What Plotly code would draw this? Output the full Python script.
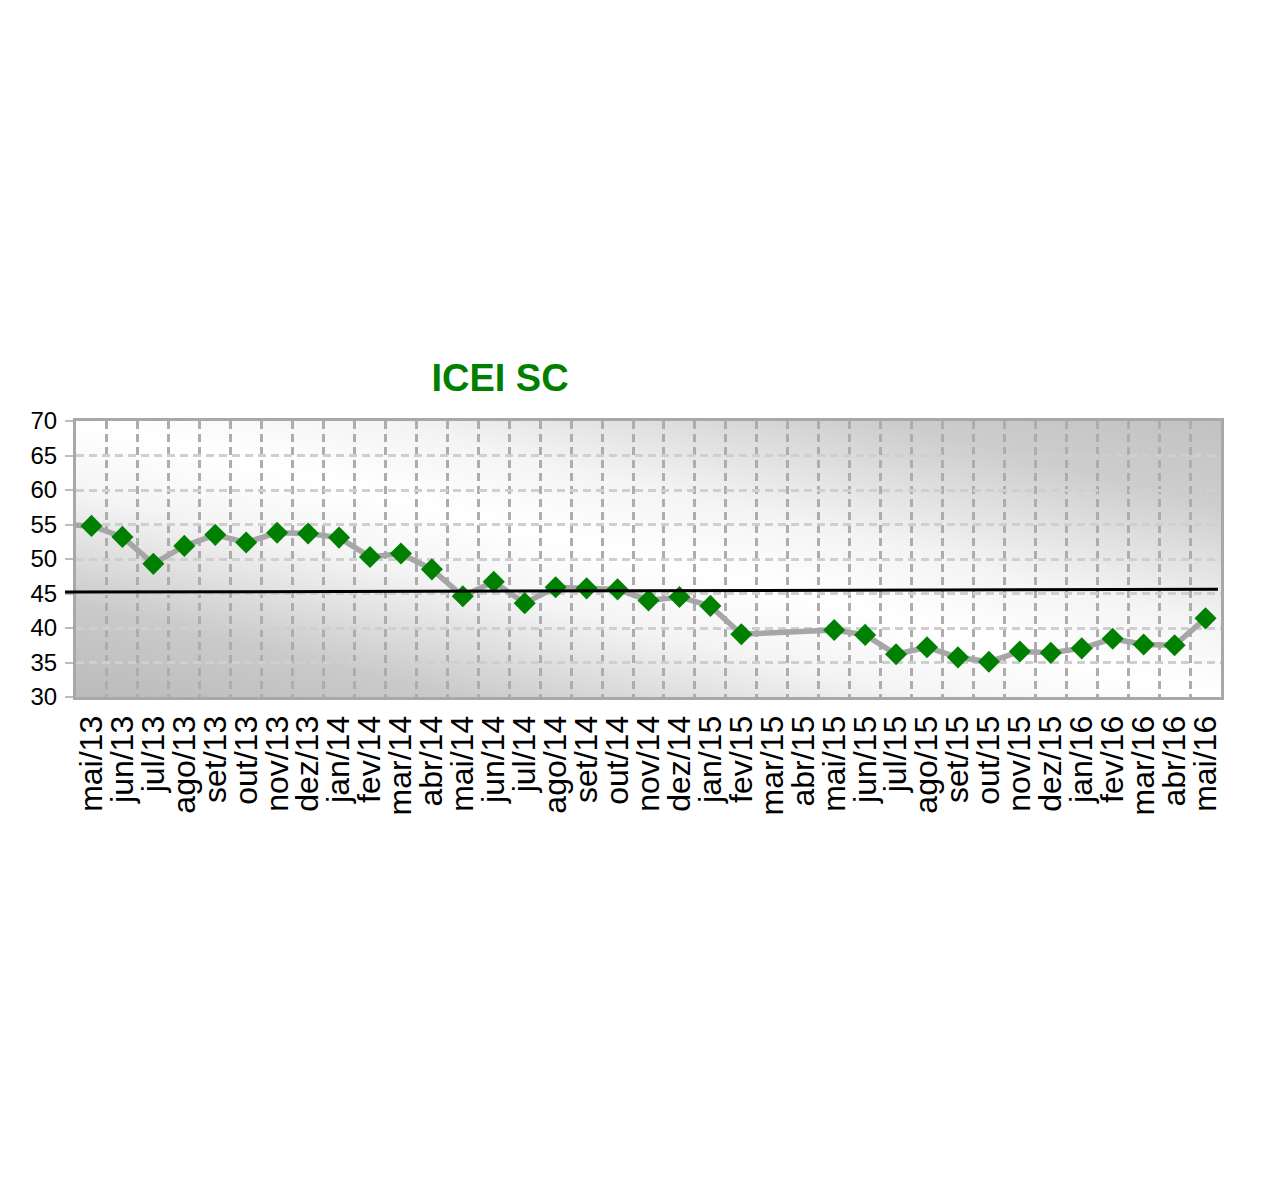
import base64
import plotly.graph_objects as go

# Data
months = ["abr/13",
          "mai/13", "jun/13", "jul/13", "ago/13", "set/13", "out/13", "nov/13", "dez/13",
          "jan/14", "fev/14", "mar/14", "abr/14", "mai/14", "jun/14", "jul/14", "ago/14",
          "set/14", "out/14", "nov/14", "dez/14", "jan/15", "fev/15", "mar/15", "abr/15",
          "mai/15", "jun/15", "jul/15", "ago/15", "set/15", "out/15", "nov/15", "dez/15",
          "jan/16", "fev/16", "mar/16", "abr/16", "mai/16"]
icei = [55.0,
        54.8, 53.2, 49.3, 51.9, 53.5, 52.4, 53.8, 53.7,
        53.1, 50.3, 50.8, 48.5, 44.6, 46.7, 43.6, 45.9,
        45.75, 45.6, 44.0, 44.5, 43.2, 39.1, None, None,
        39.7, 39.0, 36.2, 37.2, 35.75, 35.1, 36.6, 36.4,
        37.05, 38.45, 37.6, 37.5, 41.4]
shown_months = months[1:]
ref_left, ref_right = 45.2, 45.6
y_ticks = [30, 35, 40, 45, 50, 55, 60, 65, 70]

W, H = 1264, 1181
OFF = 8  # page body margin
L, R, T, B = 76 - OFF, 51, 421 - OFF, 492
PW = W - L - R

svg = f'''<svg xmlns="http://www.w3.org/2000/svg" width="1146" height="276" viewBox="0 0 1146 276" preserveAspectRatio="none">
<defs><linearGradient id="g" x1="0" y1="1" x2="1" y2="0">
<stop offset="0" stop-color="#bbbbbb"/>
<stop offset="0.17" stop-color="#cacaca"/>
<stop offset="0.37" stop-color="#f4f4f4"/>
<stop offset="0.5" stop-color="#ffffff"/>
<stop offset="0.63" stop-color="#f4f4f4"/>
<stop offset="0.85" stop-color="#cdcdcd"/>
<stop offset="1" stop-color="#c2c2c2"/>
</linearGradient></defs>
<rect x="0" y="0" width="1146" height="276" fill="url(#g)"/></svg>'''
svg_uri = "data:image/svg+xml;base64," + base64.b64encode(svg.encode()).decode()

fig = go.Figure()
fig.add_trace(go.Scatter(
    x=months, y=icei, mode="lines+markers", connectgaps=True,
    line=dict(color="#a6a6a6", width=5.5),
    marker=dict(symbol="diamond", size=17, color="#008000"),
    showlegend=False, cliponaxis=True,
))

fig.add_shape(type="line", xref="paper", yref="y",
              x0=(65 - OFF - L) / PW, x1=(1218 - OFF - L) / PW,
              y0=ref_left, y1=ref_right,
              line=dict(color="black", width=3), layer="above")

fig.update_layout(
    width=W, height=H,
    margin=dict(l=L, r=R, t=T, b=B, autoexpand=False),
    paper_bgcolor="white", plot_bgcolor="rgba(0,0,0,0)",
    font=dict(family="Liberation Sans, Arial, sans-serif", color="black"),
    title=dict(text="<b>ICEI SC</b>", xref="container", yref="container",
               x=(500 - OFF) / W, y=1 - (378 - OFF) / H, xanchor="center", yanchor="middle",
               font=dict(family="Liberation Sans Narrow, Arial Narrow, Liberation Sans, Arial",
                         size=38, color="#008000")),
    images=[dict(source=svg_uri, xref="paper", yref="paper", x=0, y=1,
                 sizex=1, sizey=1, sizing="stretch", layer="below",
                 xanchor="left", yanchor="top")],
    xaxis=dict(type="category", range=[0.5, len(months) - 0.5],
               tickmode="array", tickvals=shown_months, ticktext=shown_months,
               tickson="boundaries", tickangle=-90, automargin=False,
               tickfont=dict(size=32, family="Liberation Sans, Arial"),
               showgrid=True, gridcolor="#adadad", gridwidth=2.5, griddash="8px,5px",
               ticks="", ticklabelstandoff=3,
               showline=True, linecolor="#a8a8a8", linewidth=3, mirror=True,
               zeroline=False, fixedrange=True),
    yaxis=dict(range=[30, 70], tickvals=y_ticks, automargin=False,
               tickfont=dict(size=24, family="Liberation Sans, Arial"),
               showgrid=True, gridcolor="#cfcfcf", gridwidth=2.5, griddash="8px,5px",
               ticks="outside", ticklen=8, tickcolor="#bdbdbd", tickwidth=2,
               ticklabelstandoff=3,
               showline=True, linecolor="#a8a8a8", linewidth=3, mirror=True,
               zeroline=False),
)

fig.write_html("out.html")
